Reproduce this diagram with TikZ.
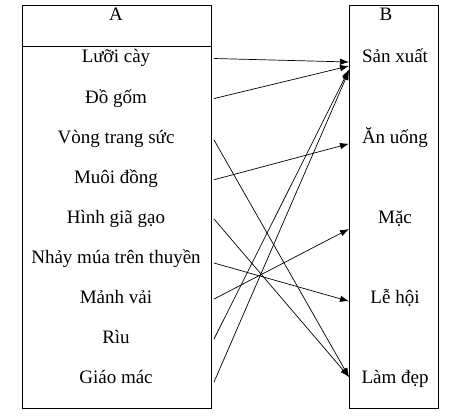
\documentclass[tikz,border=0pt]{standalone}
\usepackage{fontspec}
\setmainfont{Liberation Serif}
\usetikzlibrary{arrows.meta}
\tikzstyle{column} = [draw, rectangle, line width=0.9pt, inner sep=0pt, anchor=north west]
\tikzstyle{item} = [inner sep=0pt, text height=13pt, text depth=4pt, font=\fontsize{19}{22}\selectfont]
\tikzstyle{link} = [->, line width=0.7pt]

\begin{document}
\begin{tikzpicture}[x=1pt, y=-1pt, node distance=40.1pt, >={Latex[length=9pt,width=6.5pt]}]
    \useasboundingbox (0,0) rectangle (451,419);
    % Drawing boxes and headers
    \node [column, minimum width=189pt, minimum height=403pt] (boxA) at (22,5) {};
    \node [column, minimum width=89pt, minimum height=403pt] (boxB) at (349,5) {};
    \draw [line width=0.9pt] (boxA.north west) ++(0,41) -- ++(189,0);
    \node [item] (headA) at (116,16.5) {A};
    \node [item] (headB) at (386,16.5) {B};

    % Column A
    \node [item] (a1) at (116,58.5) {Lưỡi cày};
    \node [item, below of=a1] (a2) {Đồ gốm};
    \node [item, below of=a2] (a3) {Vòng trang sức};
    \node [item, below of=a3] (a4) {Muôi đồng};
    \node [item, below of=a4] (a5) {Hình giã gạo};
    \node [item, below of=a5] (a6) {Nhảy múa trên thuyền};
    \node [item, below of=a6] (a7) {Mảnh vải};
    \node [item, below of=a7] (a8) {Rìu};
    \node [item, below of=a8] (a9) {Giáo mác};

    % Column B
    \node [item] (b1) at (395,58.5) {Sản xuất};
    \node [item, below of=b1, node distance=80.25pt] (b2) {Ăn uống};
    \node [item, below of=b2, node distance=80.25pt] (b3) {Mặc};
    \node [item, below of=b3, node distance=80.25pt] (b4) {Lễ hội};
    \node [item, below of=b4, node distance=80.25pt] (b5) {Làm đẹp};

    % Connectors
    \draw [link] ([xshift=2pt]a1 -| boxA.east) -- ([yshift=-3.5pt]b1 -| boxB.west);
    \draw [link] ([xshift=2pt]a2 -| boxA.east) -- ([yshift=-7.5pt]b1 -| boxB.west);
    \draw [link] ([xshift=2pt,yshift=-1pt]a3 -| boxA.east) -- ([yshift=2.5pt]b5 -| boxB.west);
    \draw [link] ([xshift=2pt,yshift=-1pt]a4 -| boxA.east) -- ([yshift=-5pt]b2 -| boxB.west);
    \draw [link] ([xshift=2pt]a5 -| boxA.east) -- ([yshift=2.5pt]b5 -| boxB.west);
    \draw [link] ([xshift=2pt,yshift=-4pt]a6 -| boxA.east) -- ([yshift=-2pt]b4 -| boxB.west);
    \draw [link] ([xshift=2pt]a7 -| boxA.east) -- ([yshift=-10pt]b3 -| boxB.west);
    \draw [link] ([xshift=2pt]a8 -| boxA.east) -- ([yshift=-11pt]b1 -| boxB.west);
    \draw [link] ([xshift=2pt,yshift=-3pt]a9 -| boxA.east) -- ([yshift=-12.5pt]b1 -| boxB.west);
\end{tikzpicture}
\end{document}
